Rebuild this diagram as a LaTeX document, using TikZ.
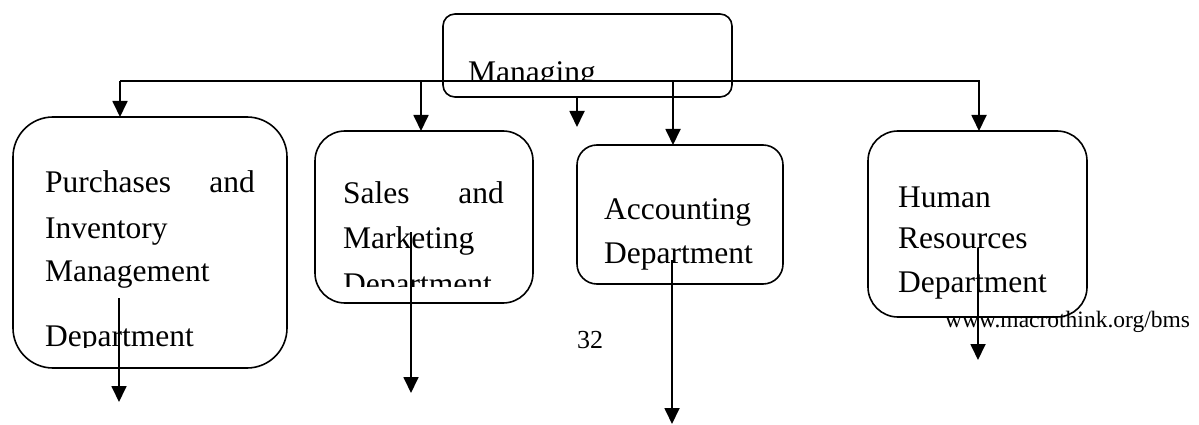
\documentclass[tikz,border=0pt]{standalone}
\usepackage{fontspec}
\setmainfont{Liberation Serif}
\usetikzlibrary{arrows.meta}
\begin{document}
\begin{tikzpicture}[x=1pt,y=-1pt,
  box/.style={draw,line width=1.6pt,rounded corners=#1,anchor=north west,inner sep=0pt,outer sep=0pt},
  arr/.style={line width=1.8pt,-{Triangle[length=16pt,width=15pt]}},
  ln/.style={line width=1.8pt},
  lbl/.style={anchor=base west,inner sep=0pt,font=\fontsize{31.5}{36}\selectfont},
  lble/.style={lbl,anchor=base east},
  foot/.style={anchor=base west,inner sep=0pt,font=\fontsize{#1}{28}\selectfont}]
\useasboundingbox (0,0) rectangle (1199,425);

% boxes
\node[box=12pt,minimum width=289pt,minimum height=83pt] (mg) at (443,14) {};
\node[box=40pt,minimum width=274pt,minimum height=251pt] (b1) at (13,117) {};
\node[box=30pt,minimum width=218pt,minimum height=172pt] (b2) at (315,131) {};
\node[box=20pt,minimum width=206pt,minimum height=139pt] (b3) at (577,145) {};
\node[box=30pt,minimum width=219pt,minimum height=186pt] (b4) at (868,131) {};

% texts
\begin{scope}
  \clip (0,0) rectangle (1199,81);
  \node[lbl] (tmg) at (468,83) {Managing};
\end{scope}
\node[lbl] (t1a) at (45,192) {Purchases};
\node[lble] (t1b) at (255,192) {and};
\node[lbl] (t1c) at (45,238) {Inventory};
\node[lbl] (t1d) at (45,281) {Management};
\begin{scope}
  \clip (0,0) rectangle (1199,347);
  \node[lbl] (t1e) at (45,346) {Department};
\end{scope}
\node[lbl] (t2a) at (343,203) {Sales};
\node[lble] (t2b) at (504,203) {and};
\node[lbl] (t2c) at (343,248) {Marketing};
\begin{scope}
  \clip (0,0) rectangle (1199,286);
  \node[lbl] (t2d) at (343,294) {Department};
\end{scope}
\node[lbl] (t3a) at (604,219) {Accounting};
\node[lbl] (t3b) at (604,263) {Department};
\node[lbl] (t4a) at (898,207) {Human};
\node[lbl] (t4b) at (898,248) {Resources};
\node[lbl] (t4c) at (898,292) {Department};
\node[foot=23.5] (url) at (945,327) {www.macrothink.org/bms};
\node[foot=26] (pg) at (577,348) {32};

% bus line and arrows
\coordinate (busL) at (120,81);
\coordinate (busR) at (980,81);
\draw[ln] (busL) -- (busR);
\coordinate (s1) at (120,81);
\coordinate (s2) at (421,81);
\coordinate (s3) at (673,81);
\coordinate (s4) at (979,81);
\draw[arr] (s1) -- (s1 |- b1.north);
\draw[arr] (s2) -- (s2 |- b2.north);
\draw[arr] (s3) -- (s3 |- b3.north);
\draw[arr] (s4) -- (s4 |- b4.north);
\coordinate (m1) at (577,97);
\coordinate (m2) at (577,127);
\draw[arr] (m1) -- (m2);

% down arrows
\coordinate (d1a) at (119,298); \coordinate (d1b) at (119,402);
\coordinate (d2a) at (411,232); \coordinate (d2b) at (411,393);
\coordinate (d3a) at (672,260); \coordinate (d3b) at (672,424);
\coordinate (d4a) at (978,248); \coordinate (d4b) at (978,360);
\draw[arr] (d1a) -- (d1b);
\draw[arr] (d2a) -- (d2b);
\draw[arr] (d3a) -- (d3b);
\draw[arr] (d4a) -- (d4b);
\end{tikzpicture}
\end{document}
